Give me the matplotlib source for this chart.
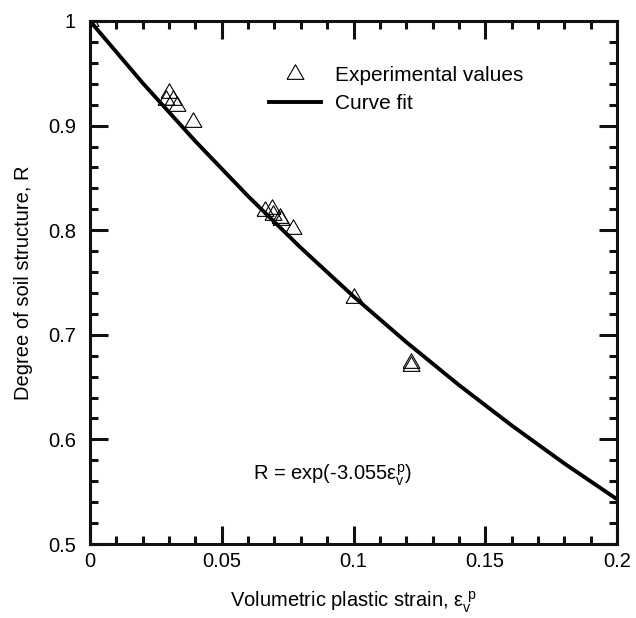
import matplotlib
matplotlib.use("Agg")
import matplotlib.pyplot as plt
from matplotlib.ticker import MultipleLocator

# experimental points
strain_exp = [0.0, 0.029, 0.030, 0.0315, 0.033, 0.039,
              0.0665, 0.069, 0.0695, 0.072, 0.0725, 0.077,
              0.100, 0.122, 0.122]
R_exp = [1.0, 0.924, 0.931, 0.924, 0.919, 0.903,
         0.818, 0.820, 0.815, 0.812, 0.810, 0.801,
         0.735, 0.673, 0.670]

# curve fit
strain_fit = [0.0, 0.02, 0.04, 0.06, 0.08, 0.10, 0.12, 0.14, 0.16, 0.18, 0.20]
R_fit = [1.0, 0.9407, 0.8850, 0.8325, 0.7832, 0.7367, 0.6931, 0.6520, 0.6134, 0.5770, 0.5428]

plt.rcParams['font.family'] = ['Liberation Sans', 'DejaVu Sans']
plt.rcParams['mathtext.fontset'] = 'custom'
plt.rcParams['mathtext.rm'] = 'Liberation Sans'
plt.rcParams['mathtext.it'] = 'Liberation Sans'
plt.rcParams['mathtext.bf'] = 'Liberation Sans:bold'

fs = 14.5
fig = plt.figure(figsize=(6.36, 6.18), dpi=100)
ax = fig.add_axes([90/636, 1 - 544/618, 527/636, 523/618])

# equilateral triangle marker
tri = [(-1, -0.577), (1, -0.577), (0, 1.155), (-1, -0.577)]

ax.plot(strain_exp, R_exp, linestyle='none', marker=tri, markersize=14,
        markerfacecolor='none', markeredgecolor='black', markeredgewidth=0.8,
        label='Experimental values', zorder=3)
ax.plot(strain_fit, R_fit, color='black', linewidth=2.8, label='Curve fit', zorder=2)

ax.set_xlim(0, 0.2)
ax.set_ylim(0.5, 1.0)
ax.xaxis.set_minor_locator(MultipleLocator(0.01))
ax.yaxis.set_minor_locator(MultipleLocator(0.02))
ax.set_xticks([0, 0.05, 0.1, 0.15, 0.2])
ax.set_xticklabels(['0', '0.05', '0.1', '0.15', '0.2'])
ax.set_yticks([0.5, 0.6, 0.7, 0.8, 0.9, 1.0])
ax.set_yticklabels(['0.5', '0.6', '0.7', '0.8', '0.9', '1'])

ax.tick_params(which='both', direction='in', top=True, right=True, width=2.2,
               labelsize=fs, color='#111111')
ax.tick_params(which='major', length=13)
ax.tick_params(which='minor', length=6)
ax.tick_params(axis='x', pad=6)
ax.tick_params(axis='y', pad=10)
for s in ax.spines.values():
    s.set_linewidth(2.2)
    s.set_color('#111111')

ax.set_xlabel('Volumetric plastic strain, $\\varepsilon_v^{\\ p}$', fontsize=fs, labelpad=13)
ax.set_ylabel('Degree of soil structure, R', fontsize=fs, labelpad=11)

ax.text(0.092, 0.561, 'R = exp(-3.055$\\varepsilon_v^p$)', fontsize=fs,
        ha='center', va='baseline')

ax.legend(loc='upper left', bbox_to_anchor=(269/636, 1 - 66/618),
          bbox_transform=fig.transFigure, frameon=False, fontsize=15,
          handlelength=2.5, handletextpad=0.65, labelspacing=0.45,
          borderpad=0, borderaxespad=0)

fig.savefig('out.png', dpi=100)
